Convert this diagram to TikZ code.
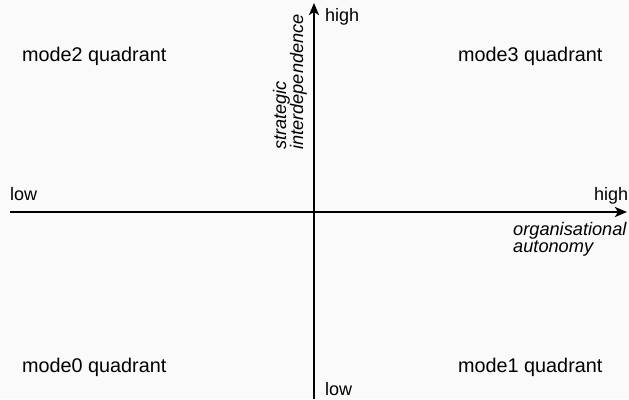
\documentclass[tikz,border=0pt]{standalone}
\usepackage{fontspec}
\setmainfont{Liberation Sans}
\usetikzlibrary{arrows.meta}
\definecolor{paper}{RGB}{250,250,250}
\begin{document}
\begin{tikzpicture}[x=1pt,y=-1pt,
  every node/.style={inner sep=0pt, text=black},
  axis/.style={line width=2.4pt, -{Stealth[length=12pt,width=10pt,inset=3pt]}},
  lab/.style={anchor=base west, font=\fontsize{18}{20}\selectfont},
  quad/.style={anchor=base west, font=\fontsize{19.8}{22}\selectfont},
  axlab/.style={font=\fontsize{18.2}{17}\itshape\selectfont, align=left}]
  % canvas
  \fill[paper] (0,0) rectangle (629,399);
  \useasboundingbox (0,0) rectangle (629,399);

  % axis end points
  \coordinate (xs) at (10,212);
  \coordinate (xe) at (627,212);
  \coordinate (ys) at (314,399);
  \coordinate (ye) at (314,3);

  \draw[axis] (xs) -- (xe);
  \draw[axis] (ys) -- (ye);

  % axis end labels
  \node[lab] (xlow)  at (10,200)  {low};
  \node[lab] (xhigh) at (594,200) {high};
  \node[lab] (yhigh) at (325,21)  {high};
  \node[lab] (ylow)  at (325,395) {low};

  % axis titles
  \node[axlab, anchor=north west] (xt) at (513,222) {organisational\\autonomy};
  \node[axlab, anchor=south west, rotate=90] (yt) at (307,150) {strategic\\interdependence};

  % quadrant labels
  \node[quad] (q2) at (22,61)  {mode2 quadrant};
  \node[quad] (q3) at (458,61) {mode3 quadrant};
  \node[quad] (q0) at (22,372) {mode0 quadrant};
  \node[quad] (q1) at (458,372) {mode1 quadrant};
\end{tikzpicture}
\end{document}
